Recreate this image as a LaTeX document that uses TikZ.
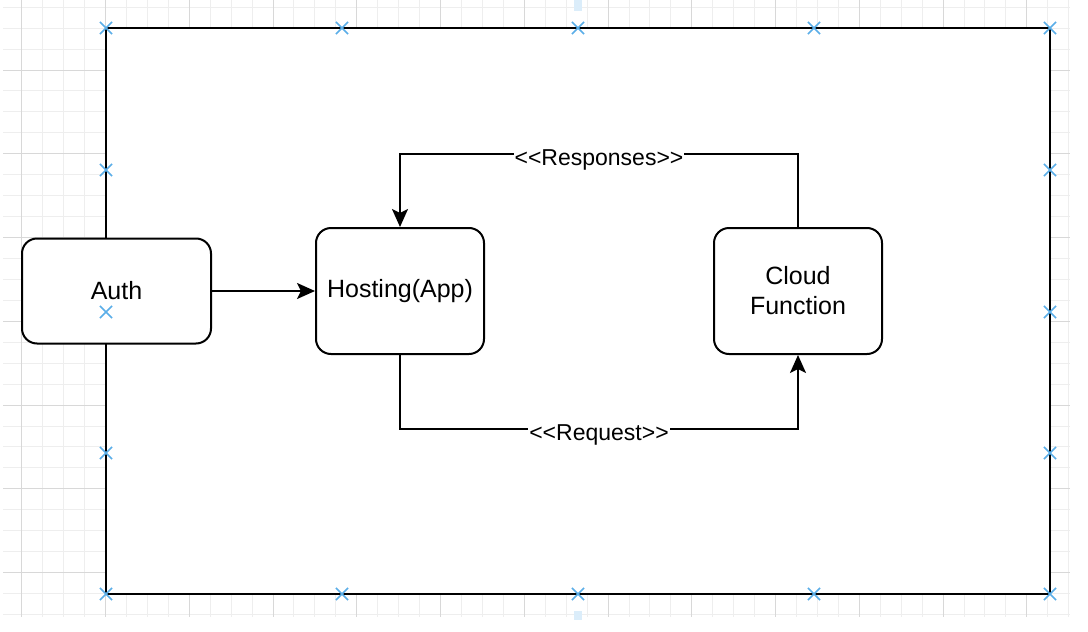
\documentclass[tikz,border=0pt]{standalone}
\usepackage{fontspec}
\setmainfont{Liberation Sans}[Ligatures=TeXOff]
\usetikzlibrary{arrows.meta,shapes.misc}
\definecolor{handleblue}{HTML}{5AAEE8}
\definecolor{gridminor}{HTML}{EEEEEE}
\definecolor{gridmajor}{HTML}{D8D8D8}
\begin{document}
\begin{tikzpicture}[x=1pt, y=-1pt,
    box/.style={draw, line width=2pt, rounded corners=15pt, fill=white, align=center, font=\fontsize{25}{30}\selectfont},
    flow/.style={line width=2pt, -{Stealth[length=18pt, width=16pt, inset=4pt]}},
    lbl/.style={fill=white, inner sep=1pt, yshift=-6pt, font=\fontsize{23}{28}\selectfont},
    handle/.style={draw=handleblue, cross out, line width=1.6pt, minimum size=10.5pt, inner sep=0pt}]
    \useasboundingbox[fill=white] (0,0) rectangle (1088,632);

    % Background grid
    \begin{scope}
        \clip (3,0) rectangle (1070,617);
        \foreach \i in {0,...,51}
            \draw[gridminor, line width=1pt] ({0.8+20.94*\i},0) -- ({0.8+20.94*\i},617);
        \foreach \i in {0,...,29}
            \draw[gridminor, line width=1pt] (0,{7.2+20.94*\i}) -- (1070,{7.2+20.94*\i});
        \foreach \i in {1,5,...,49}
            \draw[gridmajor, line width=1pt] ({0.8+20.94*\i},0) -- ({0.8+20.94*\i},617);
        \foreach \i in {3,7,...,27}
            \draw[gridmajor, line width=1pt] (0,{7.2+20.94*\i}) -- (1070,{7.2+20.94*\i});
    \end{scope}
    \fill[handleblue!22] (574,0) rectangle (582,11);
    \fill[handleblue!22] (574,611) rectangle (582,620);

    % Container
    \draw[line width=2pt, fill=white] (106,28) rectangle (1050,594);

    % Services
    \node[box, minimum width=189, minimum height=105] (auth) at (116.5,291) {Auth};
    \node[box, minimum width=168, minimum height=126] (hosting) at (400,291) {Hosting(App)};
    \node[box, minimum width=168, minimum height=126] (cloudfn) at (798,291) {Cloud\\Function};

    % Calls
    \draw[flow] (auth) -- (hosting);
    \draw[flow] (hosting.south) -- ++(0,74) -| node[lbl, pos=0.25] {<<Request>>} (cloudfn.south);
    \draw[flow] (cloudfn.north) -- ++(0,-73) -| node[lbl, pos=0.25] {<<Responses>>} (hosting.north);

    % Selection handles
    \foreach \x in {106,342,578,814,1050} {
        \node[handle] at (\x,28) {};
        \node[handle] at (\x,594) {};
    }
    \foreach \y in {170,312,453} {
        \node[handle] at (106,\y) {};
        \node[handle] at (1050,\y) {};
    }
\end{tikzpicture}
\end{document}
